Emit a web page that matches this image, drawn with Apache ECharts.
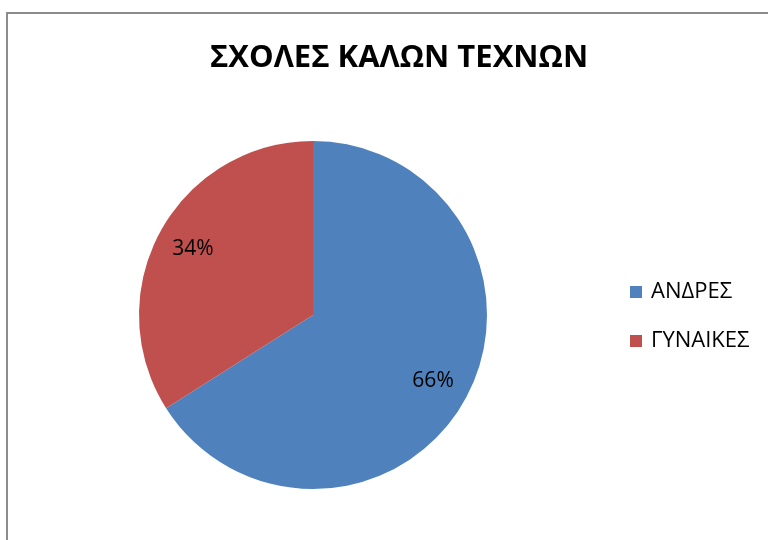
<!DOCTYPE html>
<html>
<head>
<meta charset="utf-8">
<script src="https://cdn.jsdelivr.net/npm/echarts@6/dist/echarts.min.js"></script>
<style>html,body{margin:0;padding:0;background:#fff}#c{width:768px;height:540px}</style>
</head>
<body>
<div id="c"></div>
<script>
const categories = ['ΑΝΔΡΕΣ', 'ΓΥΝΑΙΚΕΣ'];
const values = [66, 34];
const colors = ['#4F81BD', '#C0504D'];
const titleText = 'ΣΧΟΛΕΣ ΚΑΛΩΝ ΤΕΧΝΩΝ';

const font = '"Open Sans", "Noto Sans", sans-serif';
const data = categories.map((n, i) => ({ name: n, value: values[i], itemStyle: { color: colors[i] } }));

const chart = echarts.init(document.getElementById('c'));
chart.setOption({
  animation: false,
  graphic: [{
    type: 'rect', shape: { x: 7, y: 13, width: 800, height: 600 },
    style: { fill: 'none', stroke: '#8c8c8c', lineWidth: 2 }, silent: true
  }],
  title: {
    text: titleText, left: 394, top: 38, textAlign: 'center',
    textStyle: { fontFamily: font, fontSize: 31, fontWeight: 'bold', color: '#000' }
  },
  legend: {
    data: categories, orient: 'vertical', left: 630, top: 281, padding: 0,
    itemWidth: 12, itemHeight: 12, itemGap: 27, icon: 'rect',
    textStyle: { fontFamily: font, fontSize: 22, color: '#000', padding: [0, 0, 0, 4] }
  },
  series: [{
    type: 'pie', center: [313, 315], radius: [0, 174], startAngle: 90, clockwise: true,
    label: { show: false }, labelLine: { show: false }, emphasis: { disabled: true },
    data: data
  }, {
    type: 'pie', center: [313, 315], radius: [0, 268], startAngle: 90, clockwise: true,
    silent: true, emphasis: { disabled: true }, legendHoverLink: false,
    itemStyle: { color: 'rgba(0,0,0,0)', borderWidth: 0 },
    label: { show: true, position: 'inside', formatter: '{d}%', fontFamily: font, fontSize: 21, color: '#000' },
    labelLine: { show: false },
    data: categories.map((n, i) => ({ name: n, value: values[i] }))
  }]
});
</script>
</body>
</html>
